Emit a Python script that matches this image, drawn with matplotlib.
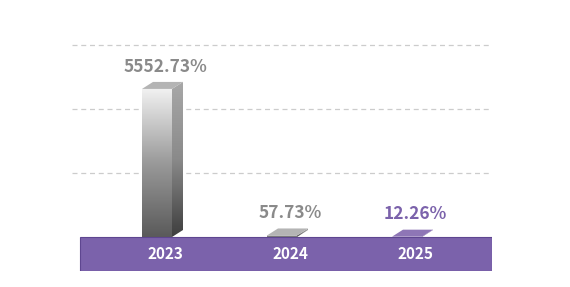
import numpy as np
import matplotlib
matplotlib.use('Agg')
import matplotlib.pyplot as plt
from matplotlib.patches import Polygon, Rectangle
from matplotlib.colors import LinearSegmentedColormap

# 数据
years = ['2023', '2024', '2025']
values = [5552.73, 57.73, 12.26]
value_labels = ['5552.73%', '57.73%', '12.26%']
grid_levels = [2400, 4800, 7200]

plt.rcParams['font.family'] = ['Noto Sans CJK KR', 'DejaVu Sans']

grey_front = LinearSegmentedColormap.from_list('gf', ['#5a5a5a', '#9a9a9a', '#f2f2f2'])
grey_side = LinearSegmentedColormap.from_list('gs', ['#3e3e3e', '#8a8a8a', '#a8a8a8'])
purple_front = LinearSegmentedColormap.from_list('pf', ['#5e4888', '#8c74b4', '#b6a6d2'])
purple_side = LinearSegmentedColormap.from_list('ps', ['#47346c', '#6d5596', '#7e68a6'])

fig = plt.figure(figsize=(5.7, 2.87), dpi=100)
ax = fig.add_axes([72 / 570, 1 - 271 / 287, 420 / 570, 231 / 287])

units_per_px = 37.5
ax.set_xlim(-0.68, 2.68)
ax.set_ylim(-34 * units_per_px, 197 * units_per_px)
ax.axis('off')

# 网格线
for g in grid_levels:
    ax.axhline(g, color='#cccccc', lw=0.9, ls=(0, (4, 3)), zorder=0)

width = 0.24
dx = 11 / 125
dy = 7 * units_per_px
grad = np.linspace(0, 1, 256).reshape(-1, 1)

for i, (v, lab) in enumerate(zip(values, value_labels)):
    purple = years[i] == '2025'
    fcm = purple_front if purple else grey_front
    scm = purple_side if purple else grey_side
    cap = '#8e76b6' if purple else '#b4b4b4'
    x0, x1 = i - width / 2, i + width / 2
    # 正面
    front = Rectangle((x0, 0), width, v, facecolor='none', edgecolor='none')
    ax.add_patch(front)
    im = ax.imshow(grad, extent=[x0, x1, 0, v], origin='lower', cmap=fcm,
                   aspect='auto', zorder=2)
    im.set_clip_path(front)
    # 侧面
    side = Polygon([(x1, 0), (x1 + dx, dy), (x1 + dx, v + dy), (x1, v)],
                   closed=True, facecolor='none', edgecolor='none')
    ax.add_patch(side)
    im2 = ax.imshow(grad, extent=[x1, x1 + dx, 0, v + dy], origin='lower', cmap=scm,
                    aspect='auto', zorder=2)
    im2.set_clip_path(side)
    # 顶面
    top = Polygon([(x0, v), (x0 + dx, v + dy), (x1 + dx, v + dy), (x1, v)],
                  closed=True, facecolor=cap, edgecolor='none', zorder=3)
    ax.add_patch(top)
    ax.annotate(lab, (i + 0.065, v + dy), xytext=(0, 4.5), textcoords='offset points',
                ha='center', va='bottom', fontsize=12.5, fontweight='bold',
                color='#7b62ab' if purple else '#8a8a8a')

# 底部紫色条
band = Rectangle((-0.616, -34 * units_per_px), 2.68 + 0.616, 34 * units_per_px,
                 facecolor='#7b62ab', edgecolor='#5e4690', lw=0.8, zorder=4)
ax.add_patch(band)
for i, y in enumerate(years):
    ax.text(i + 0.065, -17 * units_per_px, y, ha='center', va='center',
            fontsize=11, fontweight='bold', color='white', zorder=5)

fig.savefig('out.png', dpi=100)
